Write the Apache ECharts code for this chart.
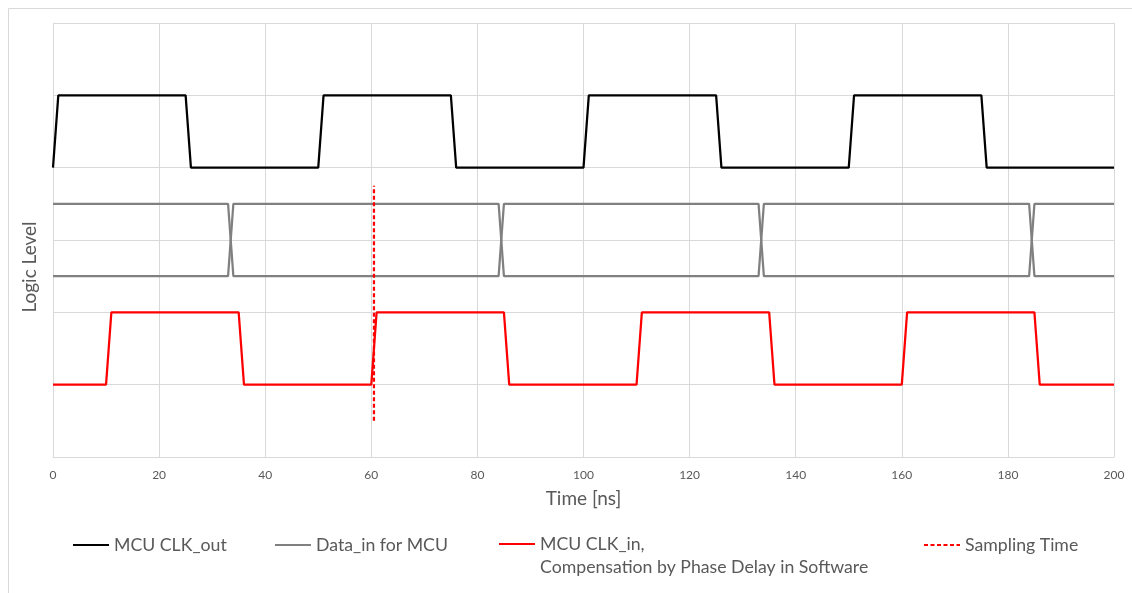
<!DOCTYPE html>
<html>
<head>
<meta charset="utf-8">
<script src="https://cdn.jsdelivr.net/npm/echarts@6/dist/echarts.min.js"></script>
<style>
html,body{margin:0;padding:0;background:#fff;}
#chart{width:1132px;height:593px;}
</style>
</head>
<body>
<div id="chart"></div>
<script>
// ---- data (time in ns, logic level in arbitrary units) ----
var xTicks = [0, 20, 40, 60, 80, 100, 120, 140, 160, 180, 200];
var clkOut = [[0,4],[1,5],[25,5],[26,4],[50,4],[51,5],[75,5],[76,4],[100,4],[101,5],[125,5],[126,4],[150,4],[151,5],[175,5],[176,4],[200,4]];
var dataInA = [[0,3.5],[33,3.5],[34,2.5],[84,2.5],[85,3.5],[133,3.5],[134,2.5],[184,2.5],[185,3.5],[200,3.5]];
var dataInB = [[0,2.5],[33,2.5],[34,3.5],[84,3.5],[85,2.5],[133,2.5],[134,3.5],[184,3.5],[185,2.5],[200,2.5]];
var clkIn = [[0,1],[10,1],[11,2],[35,2],[36,1],[60,1],[61,2],[85,2],[86,1],[110,1],[111,2],[135,2],[136,1],[160,1],[161,2],[185,2],[186,1],[200,1]];
var sampling = [[60.5,0.5],[60.5,3.75]];

var nameClkOut = 'MCU CLK_out';
var nameDataIn = 'Data_in for MCU';
var nameClkIn = 'MCU CLK_in,\nCompensation by Phase Delay in Software';
var nameSampling = 'Sampling Time';

var FONT = 'Lato, "Open Sans", sans-serif';
var TXT = '#595959';
var GRID = '#d9d9d9';

var chart = echarts.init(document.getElementById('chart'), null, {renderer:'canvas'});

function legendAt(name, left, top, extra, formatter){
  var o = {
    data:[name], left:left, top:top, orient:'horizontal',
    itemWidth:36, itemHeight:14, itemGap:0, padding:0,
    selectedMode:true,
    itemStyle:{opacity:0},
    textStyle:{color:TXT, fontFamily:FONT, fontSize:17.7}
  };
  if (extra) { for (var k in extra) o.textStyle[k] = extra[k]; }
  if (formatter) o.formatter = formatter;
  return o;
}

var option = {
  animation:false,
  backgroundColor:'#ffffff',
  graphic:[{
    type:'rect', left:6, top:6, silent:true,
    shape:{x:0,y:0,width:1300,height:700},
    style:{fill:'none', stroke:GRID, lineWidth:1}
  }],
  grid:{left:53, right:18, top:23, bottom:136, containLabel:false},
  legend:[
    legendAt(nameClkOut, 72, 536),
    legendAt(nameDataIn, 274, 536),
    legendAt(nameClkIn, 498, 509.5, {lineHeight:23}, function(n){ return ' \n' + n; }),
    legendAt(nameSampling, 923, 536)
  ],
  xAxis:{
    type:'value', min:0, max:200, interval:20,
    axisLine:{show:true, lineStyle:{color:GRID, width:1}},
    axisTick:{show:false},
    splitLine:{show:true, lineStyle:{color:GRID, width:1}},
    axisLabel:{color:TXT, fontFamily:FONT, fontSize:12, margin:12,
      formatter:function(v){ return xTicks.indexOf(v) >= 0 ? String(v) : ''; }},
    name:'Time [ns]', nameLocation:'middle', nameGap:32,
    nameTextStyle:{color:TXT, fontFamily:FONT, fontSize:19}
  },
  yAxis:{
    type:'value', min:0, max:6, interval:1,
    axisLine:{show:false}, axisTick:{show:false},
    axisLabel:{show:false},
    splitLine:{show:true, lineStyle:{color:GRID, width:1}},
    name:'Logic Level', nameLocation:'middle', nameGap:14,
    nameTextStyle:{color:TXT, fontFamily:FONT, fontSize:19, padding:[0,54,0,0]}
  },
  series:[
    {name:nameClkOut, type:'line', data:clkOut, showSymbol:false, symbol:'none',
      lineStyle:{color:'#000000', width:2.25}, itemStyle:{color:'#000000'}, z:4},
    {name:nameDataIn, type:'line', data:dataInA, showSymbol:false, symbol:'none',
      lineStyle:{color:'#808080', width:2.25}, itemStyle:{color:'#808080'}, z:3},
    {name:nameDataIn, type:'line', data:dataInB, showSymbol:false, symbol:'none',
      lineStyle:{color:'#808080', width:2.25}, itemStyle:{color:'#808080'}, z:3},
    {name:nameClkIn, type:'line', data:clkIn, showSymbol:false, symbol:'none',
      lineStyle:{color:'#ff0000', width:2.25}, itemStyle:{color:'#ff0000'}, z:4},
    {name:nameSampling, type:'line', data:sampling, showSymbol:false, symbol:'none',
      lineStyle:{color:'#ff0000', width:2.25, type:[4,2.5]}, itemStyle:{color:'#ff0000'}, z:5}
  ]
};
chart.setOption(option);
</script>
</body>
</html>
